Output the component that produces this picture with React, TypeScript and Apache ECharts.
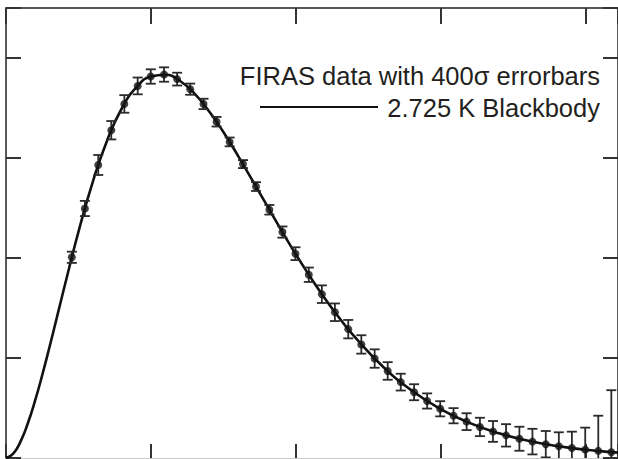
import React, { useEffect, useRef } from "react";
import * as echarts from "echarts";

// FIRAS monopole spectrum: frequency (cm^-1) and intensity (MJy/sr)
const freq = [
  2.27, 2.72, 3.18, 3.63, 4.08, 4.54, 4.99, 5.45, 5.9, 6.35, 6.81, 7.26, 7.71,
  8.17, 8.62, 9.08, 9.53, 9.98, 10.44, 10.89, 11.34, 11.8, 12.25, 12.71, 13.16,
  13.61, 14.07, 14.52, 14.97, 15.43, 15.88, 16.34, 16.79, 17.24, 17.7, 18.15,
  18.61, 19.06, 19.51, 19.97, 20.42, 20.87, 21.33,
];
const intensity = [
  200.72, 249.51, 293.02, 327.77, 354.08, 372.08, 381.49, 383.48, 378.9,
  368.83, 354.06, 336.28, 316.08, 293.92, 271.43, 248.24, 225.94, 204.33,
  183.26, 163.83, 145.75, 128.84, 113.57, 99.45, 87.04, 75.88, 65.77, 57.01,
  49.22, 42.27, 36.35, 31.06, 26.58, 22.64, 19.26, 16.39, 13.81, 11.72, 9.92,
  8.36, 7.09, 5.8, 4.52,
];
// half-height of plotted (400 sigma) error bars, MJy/sr
const errHalf = [
  5.6, 7.6, 10, 9.2, 8.8, 8.4, 7.2, 7.2, 6.4, 5.6, 5.2, 4.8, 4.4, 4, 4.4, 4.8,
  5.6, 6.4, 7.2, 8.8, 8.8, 9.2, 9.2, 9.2, 8.8, 8.4, 8, 7.6, 7.6, 7.6, 8.4, 9.2,
  10.4, 11.2, 12, 12.8, 13.2, 14, 16.4, 22, 35.2, 62, 112.8,
];

// 2.725 K blackbody curve
const bbX = [
  0, 0.25, 0.5, 0.75, 1, 1.25, 1.5, 1.75, 2, 2.5, 3, 3.5, 4, 4.5, 5, 5.5, 6,
  6.5, 7, 7.5, 8, 8.5, 9, 9.5, 10, 10.5, 11, 11.5, 12, 13, 14, 15, 16, 17, 18,
  19, 20, 21, 21.5,
];
const bbY = [
  0, 4.4, 16.4, 34.5, 57.1, 83.0, 111.0, 140.1, 169.5, 226.3, 276.9, 318.6,
  350.0, 370.8, 381.6, 383.2, 377.0, 364.4, 346.8, 325.7, 302.2, 277.4, 252.3,
  227.4, 203.3, 180.6, 159.3, 139.7, 121.8, 91.3, 67.2, 48.7, 34.9, 24.7, 17.3,
  12.0, 8.2, 5.6, 4.6,
];

const legendLine1 = "FIRAS data with 400\u03c3 errorbars";
const legendLine2 = "2.725 K Blackbody";

export default function App() {
  const ref = useRef<HTMLDivElement>(null);
  useEffect(() => {
    if (!ref.current) return;
    const chart = echarts.init(ref.current, null, { renderer: "svg" });
    const pts = freq.map((f, i) => [f, intensity[i], errHalf[i]]);
    const curve = bbX.map((x, i) => [x, bbY[i]]);
    const font = "'Liberation Sans', Arial, Helvetica, sans-serif";
    const axCommon = {
      type: "value" as const,
      min: 0,
      splitLine: { show: false },
      axisLabel: { show: false },
    };
    chart.setOption({
      animation: false,
      backgroundColor: "#ffffff",
      grid: { left: 6, top: 8, width: 618, height: 450, containLabel: false },
      xAxis: [
        {
          ...axCommon,
          max: 21.1,
          interval: 5,
          position: "bottom",
          axisLine: { show: true, onZero: false, lineStyle: { color: "#c8c8c8", width: 1 } },
          axisTick: { show: true, inside: true, length: 14, lineStyle: { color: "#333", width: 2 } },
        },
        {
          ...axCommon,
          max: 21.1,
          interval: 5,
          position: "top",
          axisLine: { show: true, onZero: false, lineStyle: { color: "#222", width: 1.5 } },
          axisTick: { show: true, inside: true, length: 16, lineStyle: { color: "#333", width: 2 } },
        },
      ],
      yAxis: [
        {
          ...axCommon,
          max: 450,
          interval: 100,
          position: "left",
          axisLine: { show: true, onZero: false, lineStyle: { color: "#222", width: 1.5 } },
          axisTick: { show: true, inside: true, length: 15, lineStyle: { color: "#333", width: 2 } },
        },
        {
          ...axCommon,
          max: 450,
          interval: 100,
          position: "right",
          axisLine: { show: true, onZero: false, lineStyle: { color: "#222", width: 1.5 } },
          axisTick: { show: true, inside: true, length: 15, lineStyle: { color: "#333", width: 2 } },
        },
      ],
      series: [
        {
          type: "line",
          name: "2.725 K Blackbody",
          data: curve,
          smooth: true,
          showSymbol: false,
          clip: true,
          lineStyle: { color: "#111", width: 2.6 },
          z: 2,
        },
        {
          type: "custom",
          name: "errorbars",
          data: pts,
          clip: true,
          encode: { x: 0, y: 1 },
          z: 3,
          renderItem: (params: any, api: any) => {
            const x = api.value(0);
            const y = api.value(1);
            const e = api.value(2);
            const top = api.coord([x, y + e]);
            const bot = api.coord([x, y - e]);
            const hw = 5;
            const st = { stroke: "#2a2a2a", lineWidth: 1.8 };
            return {
              type: "group",
              children: [
                { type: "line", shape: { x1: top[0], y1: top[1], x2: bot[0], y2: bot[1] }, style: st },
                { type: "line", shape: { x1: top[0] - hw, y1: top[1], x2: top[0] + hw, y2: top[1] }, style: st },
                { type: "line", shape: { x1: bot[0] - hw, y1: bot[1], x2: bot[0] + hw, y2: bot[1] }, style: st },
              ],
            };
          },
        },
        {
          type: "scatter",
          name: "FIRAS",
          data: pts.map((p) => [p[0], p[1]]),
          symbol: "circle",
          symbolSize: 8,
          clip: true,
          itemStyle: { color: "#111" },
          z: 4,
        },
      ],
      graphic: [
        {
          type: "text",
          x: 600,
          y: 76,
          style: {
            text: legendLine1,
            font: `25.5px ${font}`,
            fill: "#231f20",
            textAlign: "right",
            textVerticalAlign: "middle",
          },
        },
        {
          type: "text",
          x: 600,
          y: 108,
          style: {
            text: legendLine2,
            font: `25.5px ${font}`,
            fill: "#231f20",
            textAlign: "right",
            textVerticalAlign: "middle",
          },
        },
        {
          type: "line",
          shape: { x1: 260, y1: 107, x2: 378, y2: 107 },
          style: { stroke: "#111", lineWidth: 2 },
        },
      ],
    });
    return () => chart.dispose();
  }, []);
  return (
    <div
      ref={ref}
      style={{ position: "absolute", left: 0, top: 0, width: 618, height: 459 }}
    />
  );
}
